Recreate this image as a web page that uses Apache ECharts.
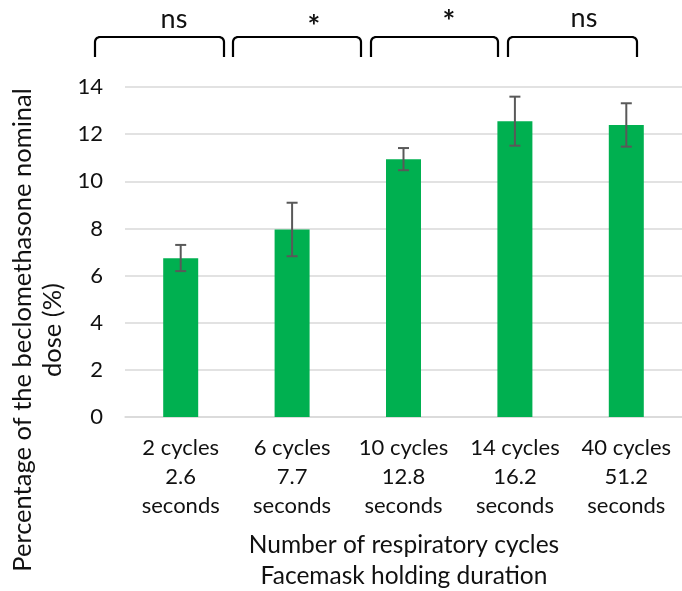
<!DOCTYPE html>
<html>
<head>
<meta charset="utf-8">
<script src="https://cdn.jsdelivr.net/npm/echarts@6/dist/echarts.min.js"></script>
<style>
html,body{margin:0;padding:0;background:#fff;}
#main{width:682px;height:591px;}
</style>
</head>
<body>
<div id="main"></div>
<script>
const categories = ['2 cycles\n2.6\nseconds', '6 cycles\n7.7\nseconds', '10 cycles\n12.8\nseconds', '14 cycles\n16.2\nseconds', '40 cycles\n51.2\nseconds'];
const means = [6.73, 7.95, 10.93, 12.55, 12.39];
const errLow = [6.19, 6.82, 10.47, 11.51, 11.47];
const errHigh = [7.30, 9.09, 11.41, 13.59, 13.31];
const yTickLabels = [0, 2, 4, 6, 8, 10, 12, 14];
const sigLabels = ['ns', '*', '*', 'ns'];
const yTitle = 'Percentage of the beclomethasone nominal\ndose (%)';
const xTitle = 'Number of respiratory cycles\nFacemask holding duration';

const FONT = 'Lato';
const TXT = '#111';

const chart = echarts.init(document.getElementById('main'), null, {renderer: 'canvas'});

// bracket geometry (annotation layout)
const bracketX = [[95, 224], [233, 361], [371, 498], [508, 637]];
const labelX = [174, 314, 449, 584];
const labelY = [19, 27, 22, 18];
const bTop = 37, bBot = 57, rad = 5;

function bracketPts(x1, x2) {
  const pts = [[x1, bBot]];
  for (let i = 0; i <= 6; i++) {
    const a = Math.PI - (Math.PI / 2) * (i / 6);
    pts.push([x1 + rad + rad * Math.cos(a), bTop + rad - rad * Math.sin(a)]);
  }
  for (let i = 0; i <= 6; i++) {
    const a = Math.PI / 2 - (Math.PI / 2) * (i / 6);
    pts.push([x2 - rad + rad * Math.cos(a), bTop + rad - rad * Math.sin(a)]);
  }
  pts.push([x2, bBot]);
  return pts;
}

const graphics = [];
bracketX.forEach((b, i) => {
  graphics.push({
    type: 'polyline', shape: {points: bracketPts(b[0], b[1])},
    style: {stroke: '#000', lineWidth: 2.2, fill: null, lineJoin: 'round'}
  });
  graphics.push({
    type: 'text', x: labelX[i], y: labelY[i],
    style: {text: sigLabels[i], font: (sigLabels[i] === '*' ? 'bold 30px ' : '27px ') + FONT, fill: TXT,
      textAlign: 'center', textVerticalAlign: 'middle'}
  });
});
graphics.push({
  type: 'text', x: 38, y: 330, rotation: Math.PI / 2,
  style: {text: yTitle, font: '25.5px ' + FONT, fill: TXT, textAlign: 'center',
    textVerticalAlign: 'middle', lineHeight: 30}
});
graphics.push({
  type: 'text', x: 404, y: 561,
  style: {text: xTitle, font: '24.5px ' + FONT, fill: TXT, textAlign: 'center',
    textVerticalAlign: 'middle', lineHeight: 31}
});

const option = {
  animation: false,
  backgroundColor: '#fff',
  grid: {left: 125, top: 87, width: 567, height: 330, containLabel: false},
  xAxis: {
    type: 'category', data: categories,
    axisLine: {show: true, lineStyle: {color: '#d9d9d9', width: 1.5}},
    axisTick: {show: false},
    axisLabel: {color: TXT, fontFamily: FONT, fontSize: 22, lineHeight: 29, margin: 16, interval: 0}
  },
  yAxis: {
    type: 'value', min: 0, max: 14, interval: 2,
    axisLine: {show: false}, axisTick: {show: false},
    splitLine: {lineStyle: {color: '#d9d9d9', width: 1.5}},
    axisLabel: {color: TXT, fontFamily: FONT, fontSize: 22, margin: 22,
      formatter: v => yTickLabels.includes(v) ? String(v) : ''}
  },
  series: [
    {
      type: 'bar', data: means, barWidth: 35,
      itemStyle: {color: '#00B050'}
    },
    {
      type: 'custom',
      data: categories.map((c, i) => [i, errLow[i], errHigh[i]]),
      renderItem: function (params, api) {
        const i = api.value(0);
        const lo = api.coord([i, api.value(1)]);
        const hi = api.coord([i, api.value(2)]);
        const hw = 5.5;
        const st = {stroke: '#595959', lineWidth: 2};
        return {
          type: 'group',
          children: [
            {type: 'line', shape: {x1: hi[0], y1: hi[1], x2: lo[0], y2: lo[1]}, style: st},
            {type: 'line', shape: {x1: hi[0] - hw, y1: hi[1], x2: hi[0] + hw, y2: hi[1]}, style: st},
            {type: 'line', shape: {x1: lo[0] - hw, y1: lo[1], x2: lo[0] + hw, y2: lo[1]}, style: st}
          ]
        };
      },
      z: 5
    }
  ],
  graphic: graphics
};
chart.setOption(option);
</script>
</body>
</html>
